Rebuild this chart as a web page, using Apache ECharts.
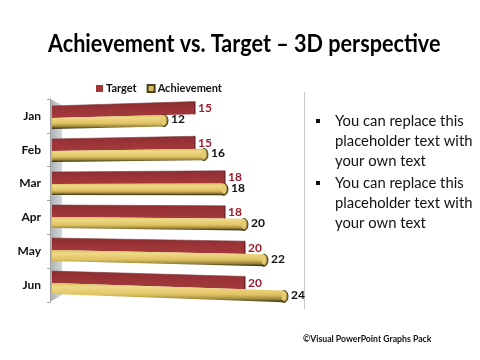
<!DOCTYPE html>
<html>
<head>
<meta charset="utf-8">
<style>html,body{margin:0;padding:0;background:#fff}#main{width:480px;height:360px}</style>
<script src="https://cdn.jsdelivr.net/npm/echarts@6/dist/echarts.min.js"></script>
</head>
<body>
<div id="main"></div>
<script>
var months = ['Jan', 'Feb', 'Mar', 'Apr', 'May', 'Jun'];
var target = [15, 15, 18, 18, 20, 20];
var achievement = [12, 16, 18, 20, 22, 24];
var bulletText = [
    'You can replace this\nplaceholder text with\nyour own text',
    'You can replace this\nplaceholder text with\nyour own text'
];

var font = 'Lato, "Noto Sans", sans-serif';
var myChart = echarts.init(document.getElementById('main'));

// bars fan out from the middle of the plot, the further right the more
var leftX = 52, midY = 192, fan = 0.00035;
// the bars sit a little tighter than the category labels
var squeeze = 0.8;
function warp(x, y) {
    return [x, y + (y - midY) * fan * (x - leftX)];
}
function quad(x1, x2, y1, y2) {
    return [warp(x1, y1), warp(x2, y1), warp(x2, y2), warp(x1, y2)];
}
function vert(stops) {
    return new echarts.graphic.LinearGradient(0, 0, 0, 1, stops);
}

function renderTarget(params, api) {
    var end = api.coord([api.value(0), api.value(1)]);
    var y = end[1] - 10 - api.value(1) * squeeze;
    var x = end[0];
    return {
        type: 'group',
        children: [
            { type: 'polygon', shape: { points: quad(leftX, x, y, y + 12) }, style: { fill: vert([{ offset: 0, color: '#8c2e32' }, { offset: 0.5, color: '#9c3438' }, { offset: 1, color: '#a43a3c' }]) } },
            { type: 'polyline', shape: { points: [warp(leftX, y), warp(x, y)] }, style: { stroke: '#7a3a3a', lineWidth: 0.6, fill: null } },
            { type: 'polygon', shape: { points: quad(x - 1, x + 0.5, y, y + 12) }, style: { fill: '#702226' } },
            {
                type: 'text',
                style: {
                    x: x + 3, y: warp(x, y)[1] + 6.5,
                    text: api.value(0) + '', fill: '#a01c2c',
                    font: 'bold 12px ' + font, verticalAlign: 'middle'
                }
            }
        ]
    };
}

function renderAchievement(params, api) {
    var end = api.coord([api.value(0), api.value(1)]);
    var y = end[1] + 2 - api.value(1) * squeeze;
    var x = end[0];
    var capY = warp(x, y + 5.5);
    var fill = vert([
        { offset: 0, color: '#dcbf5e' },
        { offset: 0.2, color: '#efd988' },
        { offset: 0.6, color: '#dfc262' },
        { offset: 0.82, color: '#a08a3c' },
        { offset: 1, color: '#2c2812' }
    ]);
    return {
        type: 'group',
        children: [
            { type: 'ellipse', shape: { cx: x - 1, cy: capY[1], rx: 4, ry: 6 }, style: { fill: '#8a7430', stroke: '#2e2a14', lineWidth: 0.8 } },
            { type: 'polygon', shape: { points: quad(leftX, x - 1, y, y + 11) }, style: { fill: fill } },
            { type: 'ellipse', shape: { cx: x - 1, cy: capY[1] - 0.5, rx: 2.5, ry: 5 }, style: { fill: '#e6cb72' } },
            {
                type: 'text',
                style: {
                    x: x + 6, y: capY[1] - 1.5,
                    text: api.value(0) + '', fill: '#111',
                    font: 'bold 12px ' + font, verticalAlign: 'middle'
                }
            }
        ]
    };
}

function seriesData(values) {
    return values.map(function (v, i) { return [v, i]; });
}

var bulletGraphics = [];
bulletText.forEach(function (t, i) {
    var top = 111 + i * 62;
    bulletGraphics.push({ type: 'rect', left: 316, top: top + 8, shape: { width: 4, height: 4 }, style: { fill: '#111' } });
    bulletGraphics.push({
        type: 'text', left: 335, top: top,
        style: { text: t, font: '14.8px ' + font, lineHeight: 20, fill: '#111' }
    });
});

var option = {
    animation: false,
    legend: {
        left: 91,
        top: 78,
        itemWidth: 7,
        itemHeight: 7,
        itemGap: 10,
        icon: 'rect',
        textStyle: { fontFamily: font, fontSize: 11, fontWeight: 'bold', color: '#111', padding: [0, 0, 0, -2] },
        data: ['Target', 'Achievement']
    },
    grid: { left: 52, top: 99, width: 240, height: 203 },
    xAxis: { type: 'value', min: 0.7, max: 24.7, show: false },
    yAxis: {
        type: 'category',
        inverse: true,
        data: months,
        offset: 2,
        axisLine: { show: true, lineStyle: { color: '#a0a0a0' } },
        axisTick: { show: true, length: 3, lineStyle: { color: '#a0a0a0' } },
        axisLabel: { fontFamily: font, fontSize: 12, fontWeight: 'bold', color: '#111', margin: 9 },
        splitLine: { show: false }
    },
    series: [
        {
            name: 'Target',
            type: 'custom',
            renderItem: renderTarget,
            clip: false,
            z: 3,
            itemStyle: { color: '#a63538' },
            encode: { x: 0, y: 1 },
            data: seriesData(target)
        },
        {
            name: 'Achievement',
            type: 'custom',
            renderItem: renderAchievement,
            clip: false,
            z: 4,
            itemStyle: { color: '#d9bd5f', borderColor: '#4a4420', borderWidth: 1 },
            encode: { x: 0, y: 1 },
            data: seriesData(achievement)
        }
    ],
    graphic: [
        // Lato is wider than the condensed title face, so squash it sideways
        {
            type: 'text', x: 48, y: 31, scaleX: 0.865,
            style: { text: 'Achievement vs. Target – 3D perspective', font: 'bold 25px ' + font, fill: '#000' }
        },
        {
            type: 'polygon', z: 0,
            shape: { points: [[50, 99], [62, 105], [62, 295], [50, 302]] },
            style: { fill: new echarts.graphic.LinearGradient(0, 0, 1, 0, [{ offset: 0, color: '#a8b0b4' }, { offset: 1, color: '#d4d8da' }]) }
        },
        { type: 'rect', z: 0, shape: { x: 304, y: 92, width: 1, height: 217 }, style: { fill: '#c8c8c8' } },
        {
            type: 'text', x: 303, y: 334, scaleX: 0.87,
            style: { text: '©Visual PowerPoint Graphs Pack', font: 'bold 10px ' + font, fill: '#111' }
        }
    ].concat(bulletGraphics)
};
myChart.setOption(option);
</script>
</body>
</html>
